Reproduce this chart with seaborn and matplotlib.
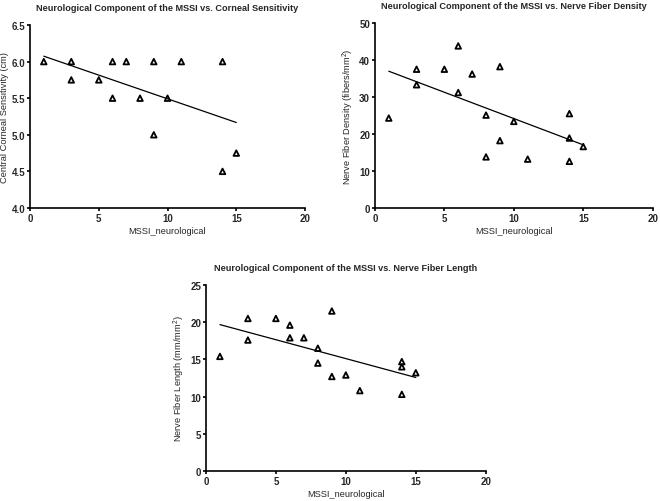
import numpy as np
import pandas as pd
import matplotlib
matplotlib.use("Agg")
import matplotlib.pyplot as plt
import seaborn as sns

# Data
mssi_sens = [1, 3, 3, 5, 6, 6, 7, 8, 9, 9, 10, 11, 14, 14, 15]
sensitivity = [6.0, 6.0, 5.75, 5.75, 6.0, 5.5, 6.0, 5.5, 6.0, 5.0, 5.5, 6.0, 6.0, 4.5, 4.75]

mssi_nerve = [1, 3, 3, 5, 6, 6, 7, 8, 8, 9, 9, 10, 11, 14, 14, 14, 15]
density = [24.3, 37.5, 33.3, 37.5, 43.8, 31.2, 36.2, 25.1, 13.8, 38.2, 18.2, 23.4, 13.2, 25.5, 18.9, 12.6, 16.6]
length = [15.4, 20.5, 17.6, 20.5, 19.6, 17.9, 17.9, 16.5, 14.5, 21.5, 12.7, 12.9, 10.8, 14.7, 14.0, 10.3, 13.2]

df_sens = pd.DataFrame({"MSSI_neurological": mssi_sens, "y": sensitivity})
df_dens = pd.DataFrame({"MSSI_neurological": mssi_nerve, "y": density})
df_len = pd.DataFrame({"MSSI_neurological": mssi_nerve, "y": length})

sns.set_style("ticks")
plt.rcParams["font.family"] = ["Liberation Sans", "DejaVu Sans"]
plt.rcParams["mathtext.fontset"] = "custom"
plt.rcParams["mathtext.rm"] = "Liberation Sans"

fig = plt.figure(figsize=(6.6, 5.02), dpi=100)

panels = [
    (df_sens, [0.0455, 0.5837, 0.4167, 0.3645], (4.0, 6.5), np.arange(4.0, 6.51, 0.5), "{:.1f}",
     "Central Corneal Sensitivity (cm)", "Neurological Component of the MSSI vs. Corneal Sensitivity"),
    (df_dens, [0.568, 0.5837, 0.421, 0.3685], (0, 50), np.arange(0, 51, 10), "{:.0f}",
     "Nerve Fiber Density (fibers/mm$^2$)", "Neurological Component of the MSSI vs. Nerve Fiber Density"),
    (df_len, [0.312, 0.0598, 0.424, 0.3705], (0, 25), np.arange(0, 26, 5), "{:.0f}",
     "Nerve Fiber Length (mm/mm$^2$)", "Neurological Component of the MSSI vs. Nerve Fiber Length"),
]

for data, pos, ylim, yticks, fmt, ylabel, title in panels:
    ax = fig.add_axes(pos)
    sns.regplot(data=data, x="MSSI_neurological", y="y", ax=ax, ci=None, marker="^",
                scatter_kws={"facecolors": "none", "edgecolors": "black",
                             "s": 16, "linewidths": 1.3, "alpha": 1},
                line_kws={"color": "black", "lw": 0.9})
    ax.set_xlim(0, 20)
    ax.set_ylim(*ylim)
    ax.set_xticks([0, 5, 10, 15, 20])
    ax.set_yticks(yticks)
    ax.set_yticklabels([fmt.format(v) for v in yticks])
    for lab in ax.get_xticklabels() + ax.get_yticklabels():
        lab.set_fontweight("bold")
        lab.set_fontsize(7)
    ax.tick_params(length=2.5, width=1.2, color="black", pad=1)
    for s in ["left", "bottom"]:
        ax.spines[s].set_linewidth(1.2)
        ax.spines[s].set_color("black")
    sns.despine(ax=ax)
    ax.set_xlabel("MSSI_neurological", fontsize=6.7, labelpad=2)
    ax.set_ylabel(ylabel, fontsize=6.7, labelpad=2)
    ax.set_title(title, fontsize=6.6, fontweight="bold", pad=11)

fig.savefig("out.png", dpi=100)
